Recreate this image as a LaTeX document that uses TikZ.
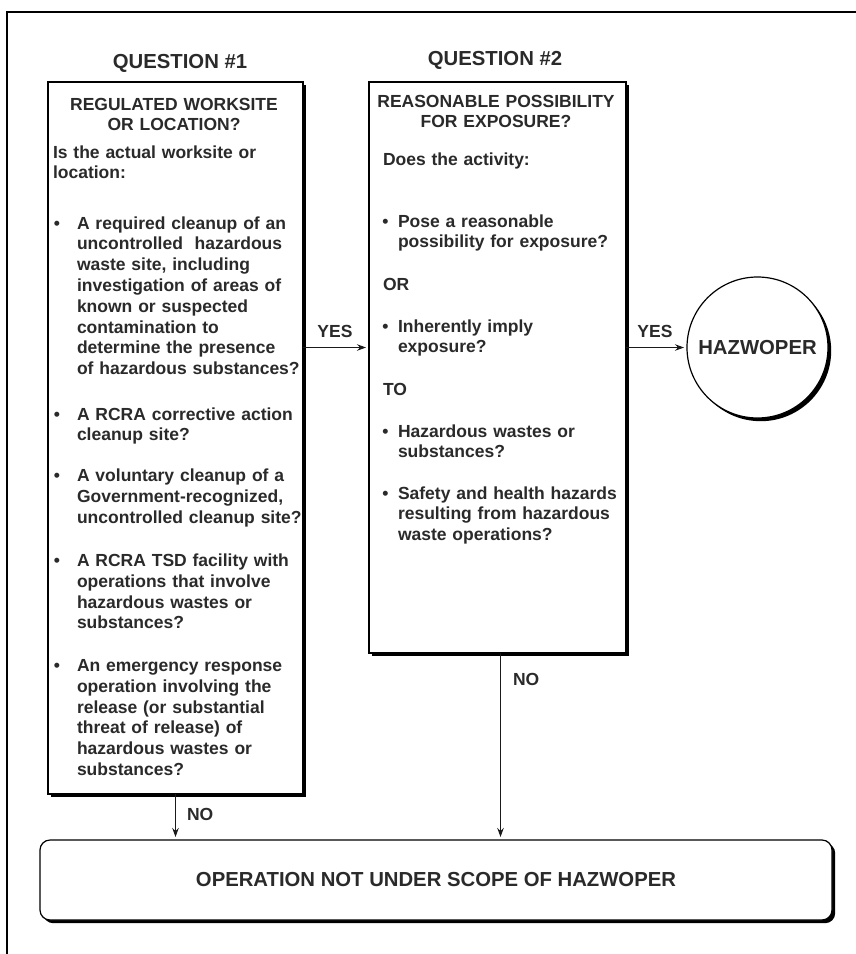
\documentclass[tikz,border=0pt]{standalone}
\usepackage{fontspec}
\setmainfont{Liberation Sans}
\usetikzlibrary{arrows.meta,shadows,calc}
\definecolor{txt}{HTML}{2A2A2A}
\definecolor{ln}{HTML}{1A1A1A}
\begin{document}
\begin{tikzpicture}[x=1pt,y=-1pt,
  every node/.append style={inner sep=0pt, outer sep=0pt},
  body/.style={font=\fontsize{17.5}{20.8}\selectfont\bfseries, text=txt},
  headfont/.style={font=\fontsize{20.3}{24}\selectfont\bfseries, text=txt},
  para/.style={body, anchor=base west, text width=262pt, align=left},
  title/.style={body, anchor=base, text width=250pt, align=center},
  dot/.style={body, anchor=base},
  lbl/.style={body},
  panel/.style={draw=black, line width=1.2pt, fill=white,
    drop shadow={shadow xshift=3.2pt, shadow yshift=-3.2pt, opacity=1, fill=black}},
  conn/.style={draw=ln, line width=1.1pt, -{Stealth[length=9pt,width=6.5pt]}, shorten >=3pt}
]
\useasboundingbox (0,0) rectangle (856,954);

% outer frame (top and left edges)
\draw[line width=2pt, black] (6.5,960) -- (6.5,11.5) -- (860,11.5);

% column headings
\node[headfont, anchor=base] (h1) at (180,68) {QUESTION \#1};
\node[headfont, anchor=base] (h2) at (495,65) {QUESTION \#2};

% question panels, outcome circle and bottom outcome box
\node[panel, minimum width=255pt, minimum height=712pt, anchor=north west] (q1) at (48,82) {};
\node[panel, minimum width=257pt, minimum height=571pt, anchor=north west] (q2) at (369,82) {};
\node[panel, circle, minimum size=141pt, headfont] (hz) at (757.5,347.5) {HAZWOPER};
\node[panel, rounded corners=10pt, minimum width=792pt, minimum height=80pt,
      anchor=north west, headfont] (out) at (40,840) {OPERATION NOT UNDER SCOPE OF HAZWOPER};

% question 1 contents
\node[title] (q1title) at (174,110) {REGULATED WORKSITE\\OR LOCATION?};
\node[para] (q1lead) at (53,158) {Is the actual worksite or\\location:};
\node[dot] (q1d1) at (57,229) {\textbullet};
\node[para] (q1a) at (77,229) {A required cleanup of an\\uncontrolled\ \ hazardous\\waste site, including\\investigation of areas of\\known or suspected\\contamination to\\determine the presence\\of hazardous substances?};
\node[dot] (q1d2) at (57,420) {\textbullet};
\node[para] (q1b) at (77,420) {A RCRA corrective action\\cleanup site?};
\node[dot] (q1d3) at (57,481.5) {\textbullet};
\node[para] (q1c) at (77,481.5) {A voluntary cleanup of a\\Government-recognized,\\uncontrolled cleanup site?};
\node[dot] (q1d4) at (57,566.5) {\textbullet};
\node[para] (q1d) at (77,566.5) {A RCRA TSD facility with\\operations that involve\\hazardous wastes or\\substances?};
\node[dot] (q1d5) at (57,671.5) {\textbullet};
\node[para] (q1e) at (77,671.5) {An emergency response\\operation involving the\\release (or substantial\\threat of release) of\\hazardous wastes or\\substances?};

% question 2 contents
\node[title] (q2title) at (496,107) {REASONABLE POSSIBILITY\\FOR EXPOSURE?};
\node[para] (q2lead) at (383,165) {Does the activity:};
\node[dot] (q2d1) at (385.5,227) {\textbullet};
\node[para] (q2a) at (398,227) {Pose a reasonable\\possibility for exposure?};
\node[para] (q2or) at (383,290) {OR};
\node[dot] (q2d2) at (385.5,332) {\textbullet};
\node[para] (q2b) at (398,332) {Inherently imply\\exposure?};
\node[para] (q2to) at (383,395) {TO};
\node[dot] (q2d3) at (385.5,437) {\textbullet};
\node[para] (q2c) at (398,437) {Hazardous wastes or\\substances?};
\node[dot] (q2d4) at (385.5,499) {\textbullet};
\node[para] (q2d) at (398,499) {Safety and health hazards\\resulting from hazardous\\waste operations?};

% connectors
\draw[conn] (q1.east |- hz.center) -- (q2.west |- hz.center);
\draw[conn] (q2.east |- hz.center) -- (hz.west);
\draw[conn] (q1.south) -- (q1.south |- out.north);
\draw[conn] ([xshift=3pt]q2.south) -- ([xshift=3pt]q2.south |- out.north);

% connector labels
\node[lbl, anchor=base] (yes1) at (335,337) {YES};
\node[lbl, anchor=base] (yes2) at (655,337) {YES};
\node[lbl, anchor=base west] (no1) at (187,820) {NO};
\node[lbl, anchor=base west] (no2) at (513,685) {NO};
\end{tikzpicture}
\end{document}
